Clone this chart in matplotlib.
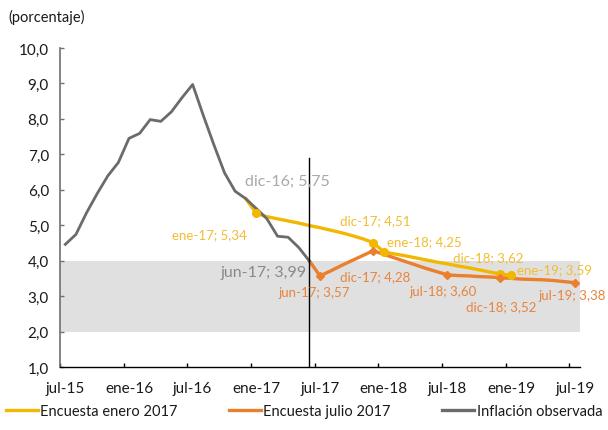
import matplotlib
matplotlib.use("Agg")
import matplotlib.pyplot as plt
from matplotlib.lines import Line2D

plt.rcParams['font.family'] = ['Lato', 'DejaVu Sans']

# Monthly axis: jul-15 ... jul-19
month_names = ['ene', 'feb', 'mar', 'abr', 'may', 'jun',
               'jul', 'ago', 'sep', 'oct', 'nov', 'dic']
months = []
for year in range(15, 20):
    for m in month_names:
        months.append(f"{m}-{year}")
months = months[months.index('jul-15'):months.index('jul-19') + 1]
pos = {label: i for i, label in enumerate(months)}

tick_labels = ['jul-15', 'ene-16', 'jul-16', 'ene-17', 'jul-17',
               'ene-18', 'jul-18', 'ene-19', 'jul-19']

# Observed annual inflation, jul-15 .. jun-17
observed_start = 'jul-15'
observed = [4.46, 4.74, 5.35, 5.89, 6.39, 6.77, 7.45, 7.59, 7.98, 7.93,
            8.20, 8.60, 8.97, 8.10, 7.27, 6.48, 5.96, 5.75, 5.47, 5.18,
            4.69, 4.66, 4.37, 3.99]

# Expectations survey, January 2017 (dic-16 .. ene-19)
survey_jan_start = 'dic-16'
survey_jan = [5.75, 5.34, 5.24, 5.18, 5.12, 5.06, 4.99, 4.93, 4.86, 4.79,
              4.71, 4.62, 4.51, 4.25, 4.19, 4.14, 4.08, 4.02, 3.96, 3.91,
              3.85, 3.80, 3.74, 3.68, 3.62, 3.59]
survey_jan_marked = ['ene-17', 'dic-17', 'ene-18', 'dic-18', 'ene-19']

# Expectations survey, July 2017 (jun-17 .. jul-19)
survey_jul_start = 'jun-17'
survey_jul = [3.99, 3.57, 3.71, 3.86, 4.00, 4.14, 4.28, 4.18, 4.08, 3.98,
              3.88, 3.78, 3.69, 3.60, 3.58, 3.57, 3.55, 3.54, 3.52, 3.50,
              3.48, 3.47, 3.46, 3.44, 3.41, 3.38]
survey_jul_marked = ['jul-17', 'dic-17', 'jul-18', 'dic-18', 'jul-19']

# Target range
band_low, band_high = 2.0, 4.0

c_obs = '#6b6b6b'
c_jan = '#f2b700'
c_jul = '#ea7f2e'
c_jan_txt = '#f2bd30'
c_jul_txt = '#e8843e'


def xs(start, values):
    s = pos[start]
    return list(range(s, s + len(values)))


fig = plt.figure(figsize=(6.08, 4.31), dpi=100)
ax = fig.add_axes([60 / 608, 63 / 431, 520 / 608, 319 / 431])

ax.axhspan(band_low, band_high, color='#e0e0e0', lw=0, zorder=0)

x_obs = xs(observed_start, observed)
x_jan = xs(survey_jan_start, survey_jan)
x_jul = xs(survey_jul_start, survey_jul)

ax.plot(x_jan, survey_jan, color=c_jan, lw=2.4, zorder=3,
        solid_joinstyle='round')
ax.plot(x_jul, survey_jul, color=c_jul, lw=2.4, zorder=3,
        solid_joinstyle='round')
ax.plot(x_obs, observed, color=c_obs, lw=2.0, zorder=4,
        solid_joinstyle='round')

jan_idx = [pos[m] - pos[survey_jan_start] for m in survey_jan_marked]
ax.plot([x_jan[i] for i in jan_idx], [survey_jan[i] for i in jan_idx],
        ls='none', marker='o', ms=5.5, color=c_jan, zorder=5)
jul_idx = [pos[m] - pos[survey_jul_start] for m in survey_jul_marked]
ax.plot([x_jul[i] for i in jul_idx], [survey_jul[i] for i in jul_idx],
        ls='none', marker='D', ms=4, color=c_jul, zorder=5)

# Vertical marker at the July 2017 survey date
ax.plot([pos['jun-17'], pos['jun-17']], [1.0, 6.9], color='black',
        lw=1.0, zorder=6)

# Data labels: (month, series, text position x, text position y, colour, size)
label_layout = [
    ('dic-16', 'obs', 16.95, 6.24, '#a9a9a9', 11.5),
    ('jun-17', 'obs', 14.6, 3.69, '#8a8a8a', 11.5),
    ('ene-17', 'jan', 10.08, 4.74, c_jan_txt, 9.5),
    ('dic-17', 'jan', 25.9, 5.13, c_jan_txt, 9.5),
    ('ene-18', 'jan', 30.3, 4.54, c_jan_txt, 9.5),
    ('dic-18', 'jan', 36.5, 4.09, c_jan_txt, 9.5),
    ('ene-19', 'jan', 42.56, 3.77, c_jan_txt, 9.5),
    ('jul-17', 'jul', 20.06, 3.12, c_jul_txt, 9.5),
    ('dic-17', 'jul', 25.9, 3.55, c_jul_txt, 9.5),
    ('jul-18', 'jul', 32.4, 3.15, c_jul_txt, 9.5),
    ('dic-18', 'jul', 37.76, 2.73, c_jul_txt, 9.5),
    ('jul-19', 'jul', 44.54, 3.04, c_jul_txt, 9.5),
]
series = {
    'obs': (observed_start, observed),
    'jan': (survey_jan_start, survey_jan),
    'jul': (survey_jul_start, survey_jul),
}
# The July survey labels its first point with the survey month
label_names = {('jul-17', 'jul'): 'jun-17'}
for month, key, tx, ty, col, size in label_layout:
    start, vals = series[key]
    v = vals[pos[month] - pos[start]]
    name = label_names.get((month, key), month)
    txt = f"{name}; {v:.2f}".replace('.', ',')
    ax.text(tx, ty, txt, color=col, fontsize=size, ha='left', va='center',
            zorder=7)

ax.set_xlim(-0.5, len(months) - 0.5)
ax.set_ylim(1.0, 10.0)
ax.set_yticks([1, 2, 3, 4, 5, 6, 7, 8, 9, 10])
ax.set_yticklabels([f"{v:.1f}".replace('.', ',') for v in ax.get_yticks()])
ax.set_xticks([pos[t] for t in tick_labels])
ax.set_xticklabels(tick_labels)
ax.set_xticks([pos[t] - 0.5 for t in tick_labels], minor=True)
ax.tick_params(axis='x', which='major', length=0, pad=10, labelsize=11,
               colors='#1a1a1a')
ax.tick_params(axis='x', which='minor', direction='in', length=3,
               width=1, color='black')
ax.tick_params(axis='y', direction='in', length=3, width=1, color='#707070',
               labelsize=11, labelcolor='#1a1a1a', pad=8)

for s in ['top', 'right']:
    ax.spines[s].set_visible(False)
ax.spines['left'].set_color('#707070')
ax.spines['left'].set_linewidth(1.2)
ax.spines['bottom'].set_color('black')
ax.spines['bottom'].set_linewidth(1.0)

fig.text(8 / 608, 1 - 17 / 431, '(porcentaje)', fontsize=10.5,
         color='#1a1a1a', ha='left', va='center')

handles = [Line2D([], [], color=c_jan, lw=2.4),
           Line2D([], [], color=c_jul, lw=2.4),
           Line2D([], [], color=c_obs, lw=2.4)]
names = ['Encuesta enero 2017', 'Encuesta julio 2017', 'Inflación observada']
fig.legend(handles, names, loc='lower left', ncol=3, mode='expand',
           bbox_to_anchor=(0.0, 0.015, 1.0, 0.07), frameon=False,
           fontsize=10.5, handlelength=2.2, handletextpad=0.15,
           borderaxespad=0, labelcolor='#1a1a1a')

fig.savefig('out.png', dpi=100)
